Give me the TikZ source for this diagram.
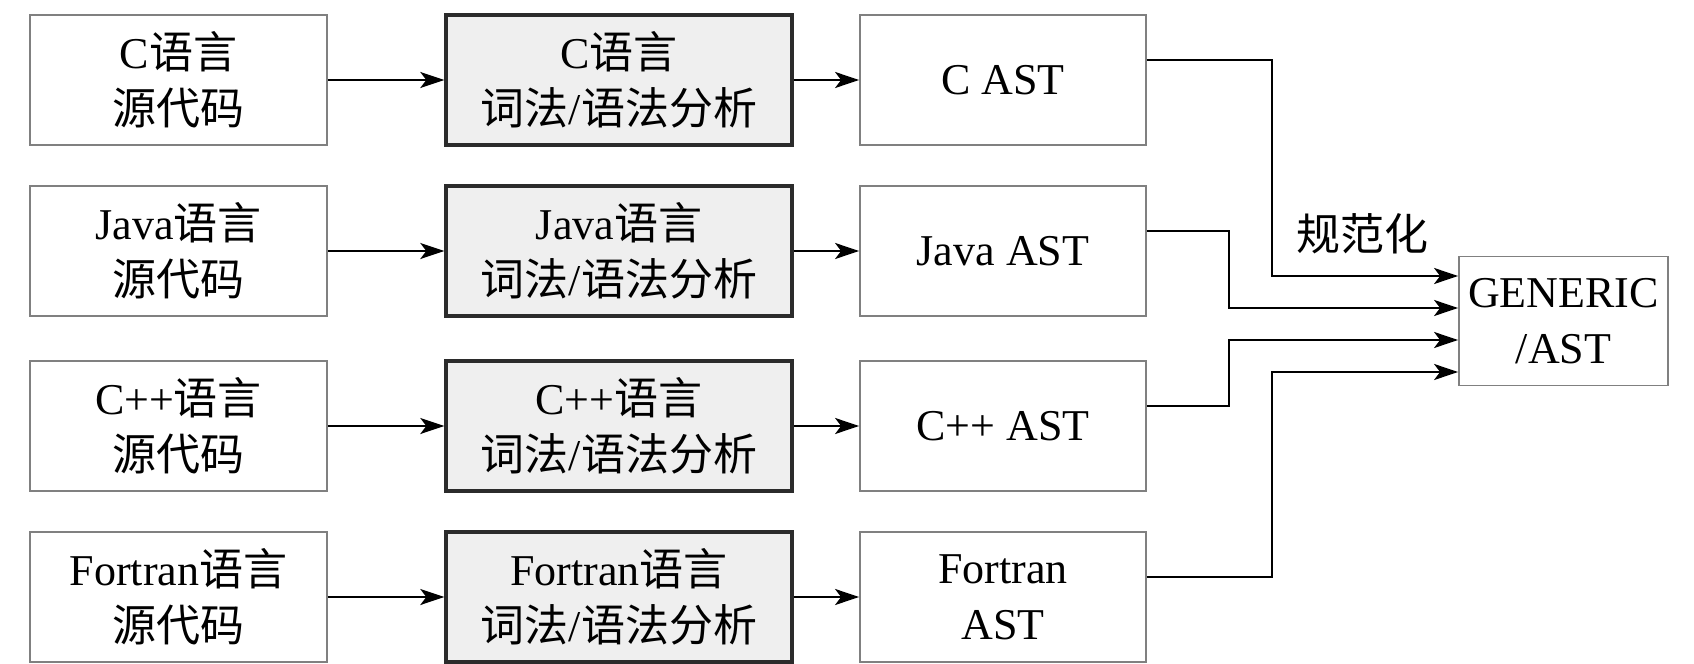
\documentclass[tikz,border=0pt]{standalone}
\usepackage{fontspec}
\setmainfont{Liberation Serif}
\newfontfamily\cjkf{Noto Sans CJK SC}
\newcommand{\zhs}[1]{{\cjkf #1}}
\usetikzlibrary{arrows.meta}
\definecolor{boxgray}{HTML}{808080}
\definecolor{boxdark}{HTML}{2B2B2B}
\definecolor{fillgray}{HTML}{EFEFEF}
\tikzset{
  srcbox/.style={draw=boxgray, line width=0.9pt, fill=white, minimum width=148.5pt, minimum height=65pt, inner sep=0pt, align=center},
  anabox/.style={draw=boxdark, line width=1.7pt, fill=fillgray, minimum width=173pt, minimum height=65pt, inner sep=0pt, align=center},
  astbox/.style={draw=boxgray, line width=0.9pt, fill=white, minimum width=143pt, minimum height=65pt, inner sep=0pt, align=center},
  genbox/.style={draw=boxgray, line width=0.9pt, fill=white, minimum width=104.5pt, minimum height=64.5pt, inner sep=0pt, align=center},
  arr/.style={-{Stealth[length=12pt,width=8pt,inset=3pt]}, line width=1.2pt, black},
}
\begin{document}
\begin{tikzpicture}[x=0.5pt,y=-0.5pt, font=\fontsize{22pt}{28pt}\selectfont]
\useasboundingbox (0,0) rectangle (1694,664);
% column 1
\node[srcbox] (s1) at (178.5,80) {C\zhs{语言}\\\zhs{源代码}};
\node[srcbox] (s2) at (178.5,251) {Java\zhs{语言}\\\zhs{源代码}};
\node[srcbox] (s3) at (178.5,426) {C++\zhs{语言}\\\zhs{源代码}};
\node[srcbox] (s4) at (178.5,597) {Fortran\zhs{语言}\\\zhs{源代码}};
% column 2
\node[anabox] (a1) at (619,80) {C\zhs{语言}\\\zhs{词法}/\zhs{语法分析}};
\node[anabox] (a2) at (619,251) {Java\zhs{语言}\\\zhs{词法}/\zhs{语法分析}};
\node[anabox] (a3) at (619,426) {C++\zhs{语言}\\\zhs{词法}/\zhs{语法分析}};
\node[anabox] (a4) at (619,597) {Fortran\zhs{语言}\\\zhs{词法}/\zhs{语法分析}};
% column 3
\node[astbox] (t1) at (1003,80) {C AST};
\node[astbox] (t2) at (1003,251) {Java AST};
\node[astbox] (t3) at (1003,426) {C++ AST};
\node[astbox] (t4) at (1003,597) {Fortran\\AST};
% generic
\node[genbox] (gen) at (1563.5,321) {GENERIC\\/AST};
\node (lbl) at (1362,234) {\zhs{规范化}};
% arrows
\foreach \i in {1,2,3,4}{
  \draw[arr] (s\i.east) -- (a\i.west);
  \draw[arr] (a\i.east) -- (t\i.west);
}
\coordinate (xo) at (1272,0);
\coordinate (xi) at (1229,0);
\coordinate (g1) at ([yshift=22.5pt]gen.west);
\coordinate (g2) at ([yshift=6.5pt]gen.west);
\coordinate (g3) at ([yshift=-9.5pt]gen.west);
\coordinate (g4) at ([yshift=-25.5pt]gen.west);
\draw[arr] ([yshift=10pt]t1.east) -| (xo |- g1) -- (g1);
\draw[arr] ([yshift=10pt]t2.east) -| (xi |- g2) -- (g2);
\draw[arr] ([yshift=10pt]t3.east) -| (xi |- g3) -- (g3);
\draw[arr] ([yshift=10pt]t4.east) -| (xo |- g4) -- (g4);
\end{tikzpicture}
\end{document}
